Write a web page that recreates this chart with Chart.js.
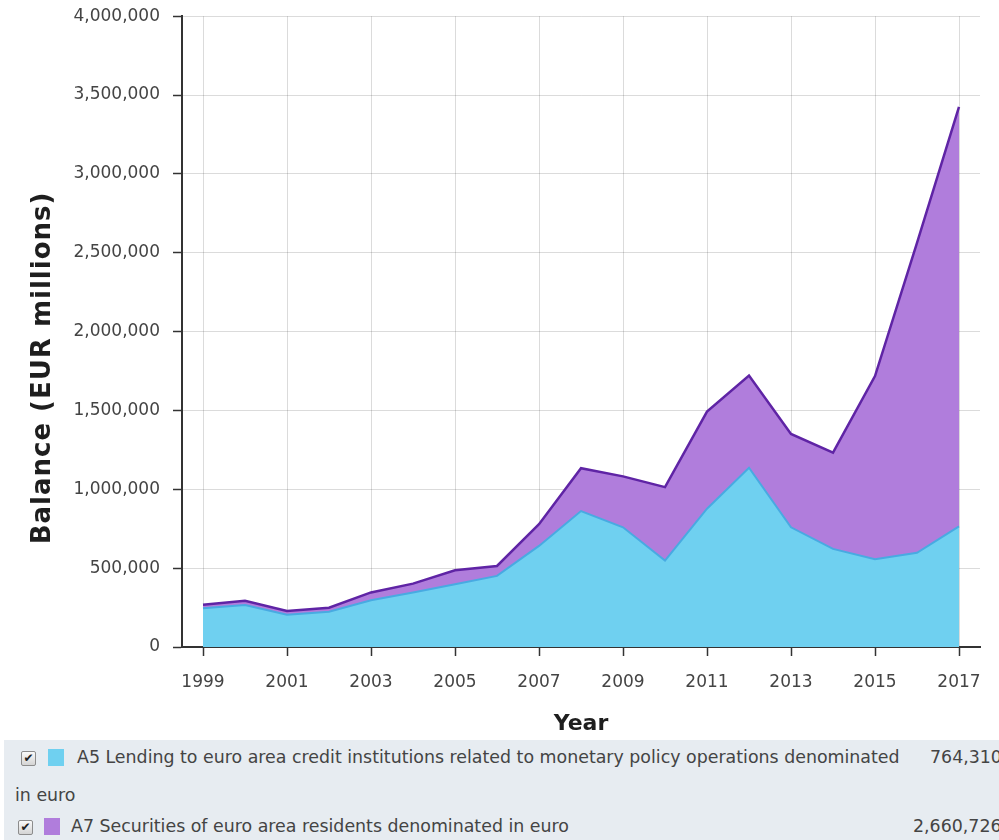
<!DOCTYPE html>
<html lang="en">
<head>
    <meta charset="UTF-8" />
    <title>Balance - A5 and A7</title>
    <script src="https://cdn.jsdelivr.net/npm/chart.js"></script>
    <style>
        html, body {
            margin: 0;
            padding: 0;
            background: #fff;
        }
        #wrap {
            position: relative;
            width: 999px;
            height: 840px;
            overflow: hidden;
        }
        #chartBox {
            position: absolute;
            left: 0;
            top: -7px;
            width: 999px;
            height: 747px;
        }
        #legend {
            position: absolute;
            left: 4px;
            top: 740px;
            width: 1000px;
            height: 100px;
            background: #e7ecf1;
            font-family: 'DejaVu Sans', sans-serif;
            font-size: 17.4px;
            color: #444;
            white-space: nowrap;
        }
        .chk {
            position: absolute;
            width: 13px;
            height: 13px;
            border: 1px solid #8c8c8c;
            border-radius: 2px;
            background: linear-gradient(#fafafa, #d4d4d4);
            font-size: 12px;
            line-height: 13px;
            text-align: center;
            color: #222;
        }
        .swatch {
            position: absolute;
            width: 16px;
            height: 17px;
        }
        .txt {
            position: absolute;
        }
    </style>
</head>
<body>
<div id="wrap">
    <div id="chartBox"><canvas id="balanceChart"></canvas></div>
    <div id="legend">
        <span class="chk" style="left:17px; top:11px;">&#10004;</span>
        <span class="swatch" style="left:44px; top:9px; background:#6fd0f0;"></span>
        <span class="txt" style="left:73px; top:7px;">A5 Lending to euro area credit institutions related to monetary policy operations denominated</span>
        <span class="txt" style="left:926px; top:7px;">764,310</span>
        <span class="txt" style="left:11px; top:45px;">in euro</span>
        <span class="chk" style="left:14px; top:80px;">&#10004;</span>
        <span class="swatch" style="left:40px; top:78px; background:#b07ddc;"></span>
        <span class="txt" style="left:67px; top:76px;">A7 Securities of euro area residents denominated in euro</span>
        <span class="txt" style="left:909px; top:76px;">2,660,726</span>
    </div>
</div>

<script>
    // Year-end balances, EUR millions
    const years = [1999, 2000, 2001, 2002, 2003, 2004, 2005, 2006, 2007, 2008,
                   2009, 2010, 2011, 2012, 2013, 2014, 2015, 2016, 2017];

    const lendingA5 = [245000, 266000, 204000, 223000, 297000, 345000, 398000, 451000, 641000, 862000,
                       759000, 548000, 877000, 1137000, 759000, 622000, 556000, 597000, 764310];

    const securitiesA7 = [23000, 27000, 24000, 26000, 49000, 57000, 89000, 63000, 138000, 272000,
                          323000, 466000, 616000, 584000, 592000, 611000, 1162000, 1965000, 2660726];

    const xTickYears = [1999, 2001, 2003, 2005, 2007, 2009, 2011, 2013, 2015, 2017];

    const toPoints = (vals) => vals.map((v, i) => ({ x: years[i], y: v }));

    // y axis title drawn by hand so it sits where the original has it
    const yTitlePlugin = {
        id: 'yTitle',
        afterDraw(chart) {
            const ctx = chart.ctx;
            ctx.save();
            ctx.translate(43, 375);
            ctx.rotate(-Math.PI / 2);
            ctx.font = 'bold 26px "DejaVu Sans"';
            ctx.letterSpacing = '1px';
            ctx.fillStyle = '#1e1e1e';
            ctx.textAlign = 'center';
            ctx.textBaseline = 'middle';
            ctx.fillText('Balance (EUR millions)', 0, 0);
            ctx.restore();
        }
    };

    const ctx = document.getElementById('balanceChart').getContext('2d');

    const balanceChart = new Chart(ctx, {
        type: 'line',
        data: {
            datasets: [
                {
                    label: 'A5 Lending to euro area credit institutions related to monetary policy operations denominated in euro',
                    data: toPoints(lendingA5),
                    borderColor: 'rgb(72 170 226)',
                    backgroundColor: 'rgb(111 208 240)',
                    borderWidth: 2,
                    fill: 'origin',
                    pointRadius: 0,
                    tension: 0
                },
                {
                    label: 'A7 Securities of euro area residents denominated in euro',
                    data: toPoints(securitiesA7),
                    borderColor: 'rgb(95 36 165)',
                    backgroundColor: 'rgb(176 125 220)',
                    borderWidth: 2.5,
                    fill: '-1',
                    pointRadius: 0,
                    tension: 0
                }
            ]
        },
        options: {
            responsive: true,
            maintainAspectRatio: false,
            animation: false,
            layout: {
                padding: { left: 0, right: 19, top: 8, bottom: 0 }
            },
            scales: {
                x: {
                    type: 'linear',
                    min: 1998.5,
                    max: 2017.5,
                    z: 1,
                    afterBuildTicks: (scale) => {
                        scale.ticks = xTickYears.map(v => ({ value: v }));
                    },
                    afterFit: (scale) => {
                        scale.height = 93;
                    },
                    ticks: {
                        color: '#444',
                        padding: 16,
                        maxRotation: 0,
                        font: { family: 'DejaVu Sans', size: 17 },
                        callback: (v) => String(v)
                    },
                    grid: {
                        color: 'rgba(0, 0, 0, 0.14)',
                        tickColor: '#333',
                        tickLength: 9,
                        tickWidth: 1.5
                    },
                    border: { color: '#333', width: 2 },
                    title: {
                        display: true,
                        text: 'Year',
                        color: '#1e1e1e',
                        font: { family: 'DejaVu Sans', size: 22, weight: 'bold' },
                        padding: { top: 0, bottom: 3 }
                    }
                },
                y: {
                    stacked: true,
                    min: 0,
                    max: 4000000,
                    z: 1,
                    afterFit: (scale) => {
                        scale.width = 182;
                    },
                    ticks: {
                        stepSize: 500000,
                        color: '#444',
                        padding: 13,
                        font: { family: 'DejaVu Sans', size: 17 },
                        callback: (v) => v.toLocaleString('en-US')
                    },
                    grid: {
                        color: 'rgba(0, 0, 0, 0.14)',
                        tickColor: '#333',
                        tickLength: 9,
                        tickWidth: 1.5
                    },
                    border: { color: '#333', width: 2 }
                }
            },
            plugins: {
                legend: { display: false },
                tooltip: { enabled: false }
            }
        },
        plugins: [yTitlePlugin]
    });
</script>
</body>
</html>
